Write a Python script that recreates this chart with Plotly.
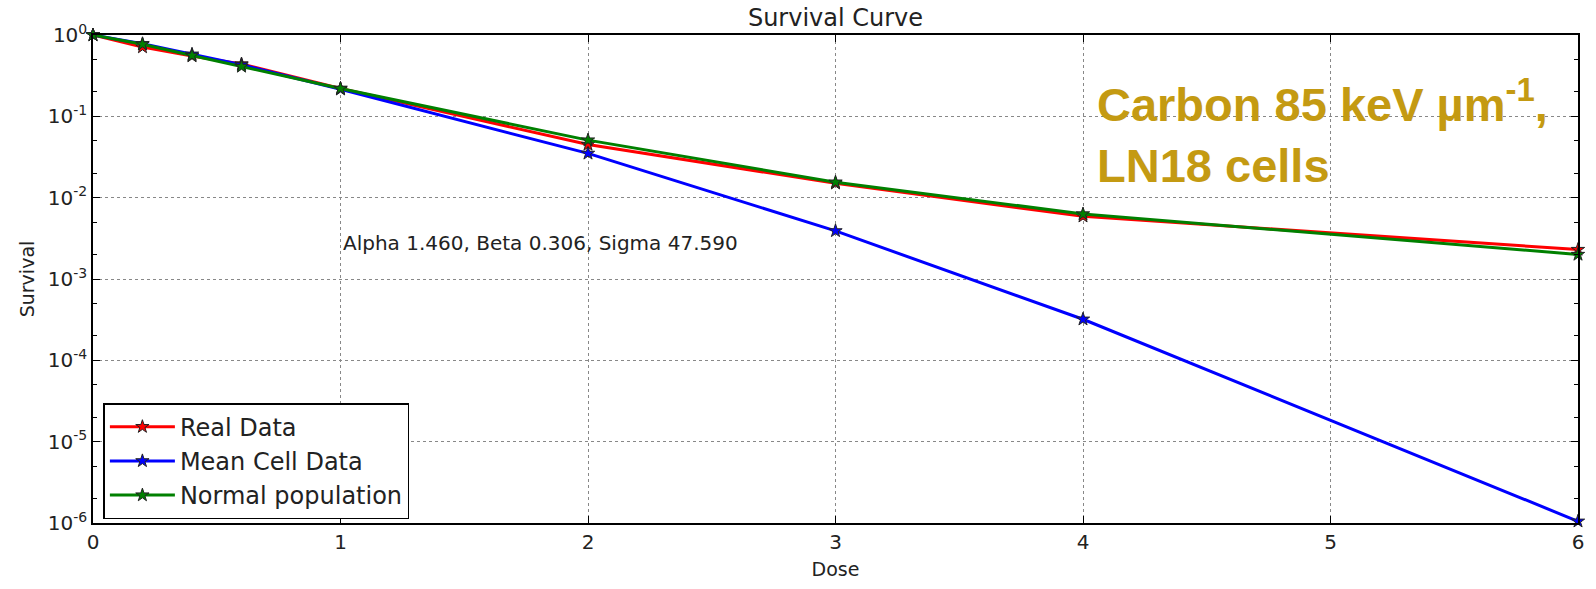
import plotly.graph_objects as go

dose = [0, 0.2, 0.4, 0.6, 1, 2, 3, 4, 6]
real_data = [1.0, 0.71, 0.55, 0.44, 0.22, 0.045, 0.015, 0.0059, 0.0023]
mean_cell = [1.0, 0.78, 0.58, 0.43, 0.215, 0.035, 0.0039, 0.00032, 1.05e-6]
normal_pop = [1.0, 0.77, 0.56, 0.41, 0.22, 0.051, 0.0155, 0.0063, 0.0020]

y_exps = [0, -1, -2, -3, -4, -5, -6]
x_ticks = [0, 1, 2, 3, 4, 5, 6]

FONT = "DejaVu Sans"

fig = go.Figure()
series = [("Real Data", real_data, "#ff0000"),
          ("Mean Cell Data", mean_cell, "#0000ff"),
          ("Normal population", normal_pop, "#008000")]
for name, vals, col in series:
    fig.add_trace(go.Scatter(
        x=dose, y=vals, name=name, mode="lines+markers", legendgroup=name,
        line=dict(color=col, width=3),
        marker=dict(symbol="star", size=10, color=col, line=dict(color="#222", width=1)),
        cliponaxis=False,
    ))

fig.update_layout(
    width=1596, height=589,
    margin=dict(l=93, r=15, t=35, b=62),
    paper_bgcolor="white", plot_bgcolor="white",
    font=dict(family=FONT, size=20, color="#222"),
    title=dict(text="Survival Curve", x=0.5, xref="paper", xanchor="center", y=0.97, yanchor="middle",
               font=dict(family=FONT, size=24, color="#222")),
    legend=dict(x=0.007, y=0.008, xanchor="left", yanchor="bottom",
                bgcolor="white", bordercolor="black", borderwidth=1.5,
                font=dict(family=FONT, size=24, color="#222"),
                tracegroupgap=0, itemwidth=65),
    showlegend=True,
)

fig.update_xaxes(
    range=[0, 6], tickvals=x_ticks, ticktext=[str(v) for v in x_ticks],
    showline=True, linecolor="black", linewidth=1.5, mirror="ticks",
    ticks="inside", ticklen=7, tickcolor="black",
    showgrid=True, gridcolor="#888", griddash="dot", gridwidth=1,
    zeroline=False,
    tickfont=dict(family=FONT, size=20, color="#222"),
    title=dict(text="Dose", font=dict(family=FONT, size=19, color="#222"), standoff=10),
)
fig.update_yaxes(
    type="log", range=[-6, 0],
    tickvals=[10 ** e for e in y_exps],
    ticktext=["10<sup>%d</sup>" % e for e in y_exps],
    showline=True, linecolor="black", linewidth=1.5, mirror="ticks",
    ticks="inside", ticklen=7, tickcolor="black",
    minor=dict(ticks="inside", ticklen=4, tickcolor="black", showgrid=False),
    showgrid=True, gridcolor="#888", griddash="dot", gridwidth=1,
    zeroline=False,
    tickfont=dict(family=FONT, size=20, color="#222"),
    title=dict(text="Survival", font=dict(family=FONT, size=19, color="#222"), standoff=8),
)

fig.add_annotation(
    xref="x", yref="paper", x=1.0, y=0.573, xanchor="left", yanchor="middle",
    text="Alpha 1.460, Beta 0.306, Sigma 47.590", showarrow=False,
    font=dict(family=FONT, size=20, color="#222"),
)
fig.add_annotation(
    xref="paper", yref="paper", x=0.675, y=0.93, xanchor="left", yanchor="top",
    text="<b>Carbon 85 keV µm<sup>-1</sup>,<br>LN18 cells</b>", showarrow=False, align="left",
    font=dict(family="Liberation Sans", size=47, color="#C49A12"),
)

fig.write_html("out.html")
